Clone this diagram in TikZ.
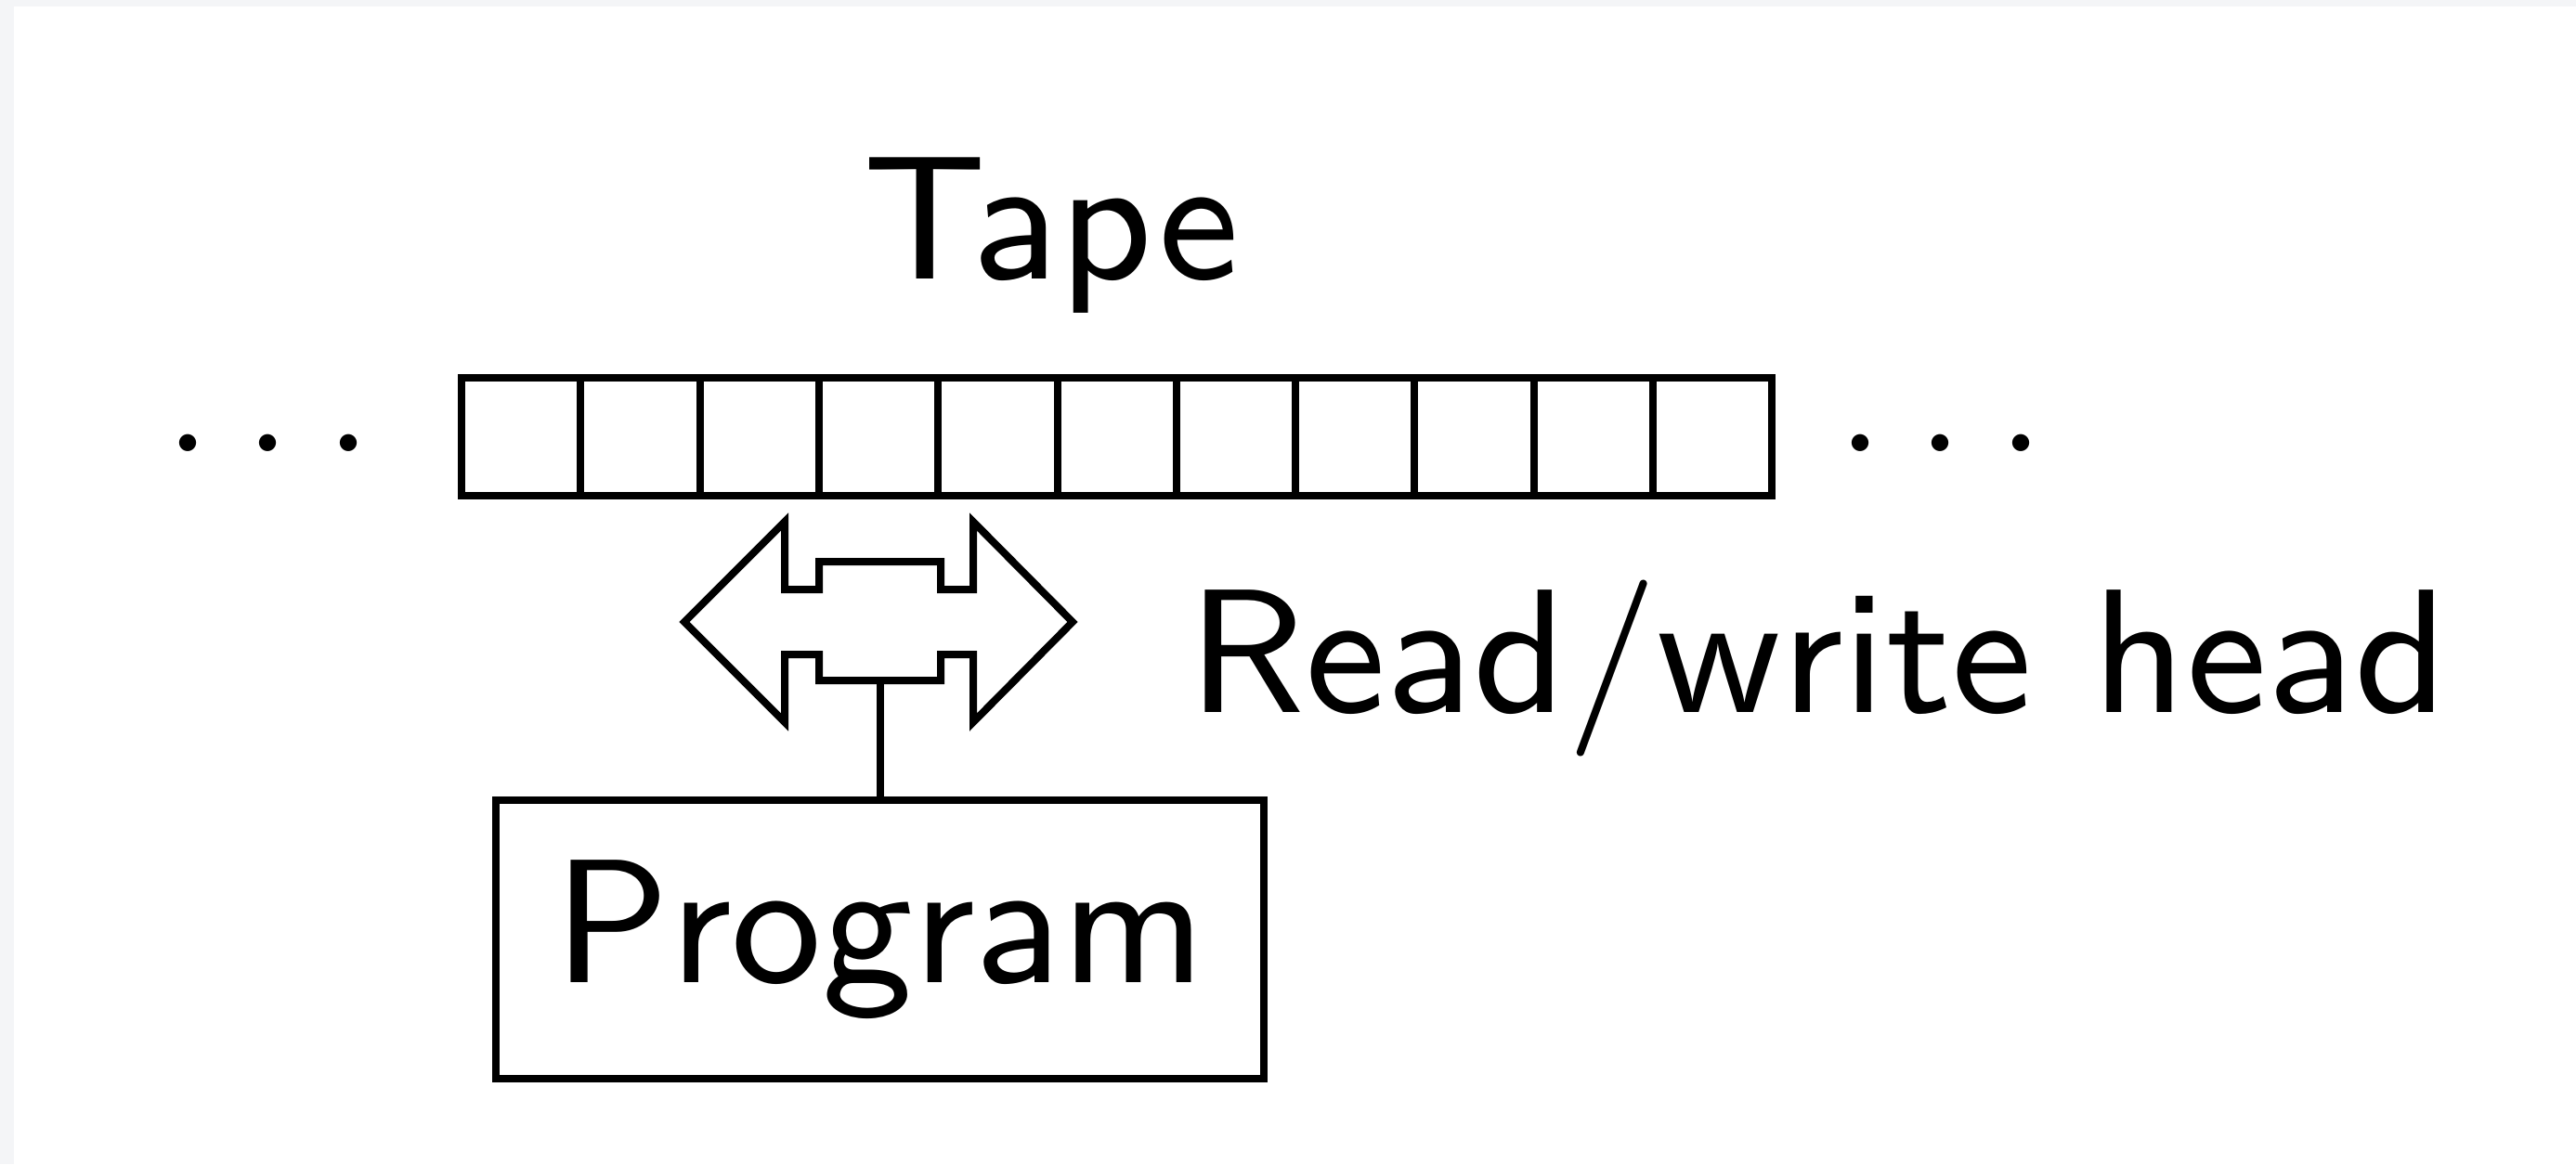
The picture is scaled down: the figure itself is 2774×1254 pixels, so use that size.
\documentclass[tikz,border=0pt]{standalone}
\usepackage{tikz}
\definecolor{pagegray}{HTML}{F4F5F7}
% Latin Modern Sans at its 9pt design size, enlarged
\font\labelfont="[lmsans9-regular.otf]" at 19pt
\tikzset{
  line/.style={line width=0.8pt, draw=black},
  cell/.style={line, rectangle, minimum width=12.83pt, minimum height=12.7pt, inner sep=0pt, outer sep=0pt},
  label/.style={font=\labelfont, inner sep=0pt},
  dotsnode/.style={font=\fontsize{19}{23}\selectfont, inner sep=0pt, anchor=base},
  progbox/.style={line, rectangle, minimum width=82.7pt, minimum height=30pt, inner sep=0pt,
    font=\labelfont}
}
\newcommand{\tapedots}{$\cdotp\mkern1mu\cdotp\mkern1mu\cdotp$}
\begin{document}
\begin{tikzpicture}[x=0.1pt, y=-0.1pt]
  % page with a thin grey margin on the left and top
  \useasboundingbox (0,0) rectangle (2774,1254);
  \fill[pagegray] (0,0) rectangle (2774,1254);
  \fill[white] (15,7) rectangle (2774,1254);

  % tape title
  \node[label, anchor=base] (tapelabel) at (1132,300) {Tape};

  % tape cells
  \foreach \i in {0,...,10} {
    \node[cell] (c\i) at ({561.2+128.3*\i},470.5) {};
  }

  % ellipses on both sides of the tape
  \node[dotsnode] (ldots) at (289,520) {\tapedots};
  \node[dotsnode] (rdots) at (2090,520) {\tapedots};

  % read/write head: double arrow with a raised middle block
  \draw[line, line join=miter]
    (737,670) -- (845,562) -- (845,635) -- (882,635) -- (882,605)
    -- (1013,605) -- (1013,635) -- (1048,635) -- (1048,562)
    -- (1155,670) -- (1048,778) -- (1048,705) -- (1013,705)
    -- (1013,733) -- (882,733) -- (882,705) -- (845,705)
    -- (845,778) -- cycle;
  \coordinate (headbase) at (947.5,733);

  \node[label, anchor=base west] (headlabel) at (1277,767) {Read/write head};

  % program box
  \node[progbox] (prog) at (947.5,1012) {Program};

  \draw[line] (headbase) -- (prog.north);
\end{tikzpicture}
\end{document}
